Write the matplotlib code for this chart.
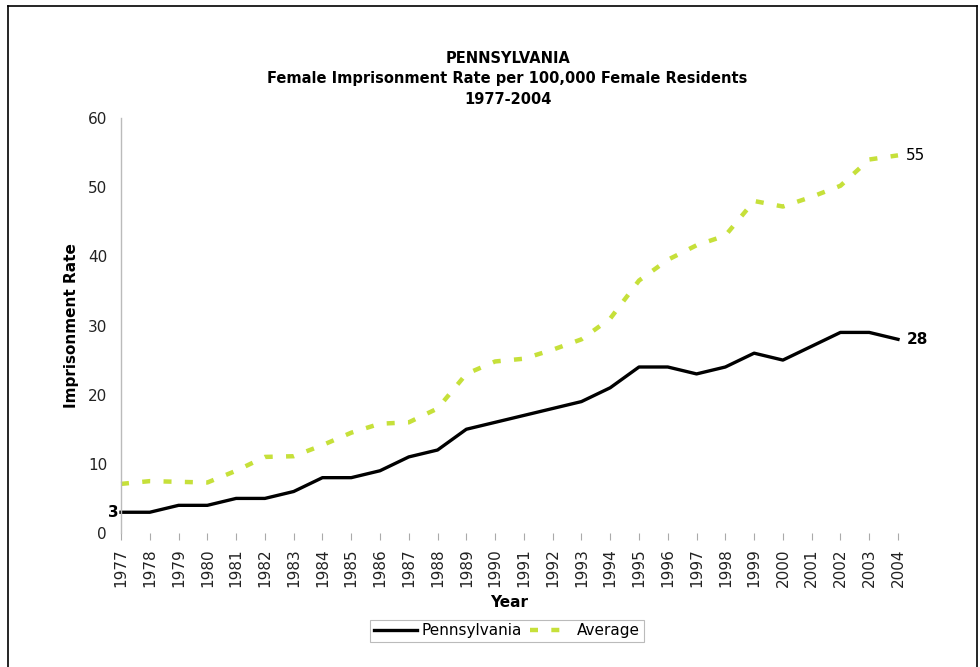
import matplotlib
matplotlib.use("Agg")
import matplotlib.pyplot as plt
from matplotlib.lines import Line2D

years = list(range(1977, 2005))
pennsylvania = [3, 3, 4, 4, 5, 5, 6, 8, 8, 9, 11, 12, 15, 16, 17, 18, 19, 21,
                24, 24, 23, 24, 26, 25, 27, 29, 29, 28]
average = [7.1, 7.5, 7.4, 7.3, 9.0, 11.0, 11.1, 12.7, 14.5, 15.8, 16.0, 18.0,
           23.0, 24.8, 25.2, 26.5, 28.0, 31.0, 36.5, 39.5, 41.6, 43.0, 48.0,
           47.2, 48.6, 50.2, 54.0, 54.6]

plt.rcParams['font.family'] = ['DejaVu Sans']

fig = plt.figure(figsize=(9.8, 6.67), dpi=100)
ax = fig.add_axes([121/980, 1 - 533/667, (898-121)/980, (533-118)/667])

avg_color = '#c6e03a'
ax.plot(years, pennsylvania, color='black', lw=2.4, label='Pennsylvania',
        clip_on=False, solid_joinstyle='round')
ax.plot(years, average, color=avg_color, lw=3.2, dashes=(1.8, 3.0),
        label='Average', clip_on=False)

ax.set_xlim(years[0], years[-1])
ax.set_ylim(0, 60)
ax.set_yticks(range(0, 61, 10))
ax.set_xticks(years)
ax.set_xticklabels([str(y) for y in years], rotation=90, fontsize=11)
ax.tick_params(axis='y', length=0, labelsize=11, pad=10, labelcolor='#222222')
ax.tick_params(axis='x', length=5, color='#aaaaaa', pad=6, direction='out',
               labelcolor='#222222')
for s in ['top', 'right', 'bottom']:
    ax.spines[s].set_visible(False)
ax.spines['left'].set_color('#bbbbbb')
ax.spines['left'].set_linewidth(1)

ax.set_xlabel('Year', fontsize=11, fontweight='bold', labelpad=6)
ax.set_ylabel('Imprisonment Rate', fontsize=11, fontweight='bold', labelpad=6)

fig.text(0.518, 1 - 79/667,
         'PENNSYLVANIA\nFemale Imprisonment Rate per 100,000 Female Residents\n1977-2004',
         ha='center', va='center', fontsize=10.5, fontweight='bold',
         linespacing=1.45)

ax.annotate(str(pennsylvania[0]), (years[0], pennsylvania[0]), xytext=(-2, 0),
            textcoords='offset points', ha='right', va='center',
            fontsize=11, fontweight='bold')
ax.annotate(str(pennsylvania[-1]), (years[-1], pennsylvania[-1]), xytext=(6, 0),
            textcoords='offset points', ha='left', va='center',
            fontsize=11, fontweight='bold')
ax.annotate(str(round(average[-1])), (years[-1], average[-1]), xytext=(6, 0),
            textcoords='offset points', ha='left', va='center', fontsize=11)

leg = ax.legend(loc='center', bbox_to_anchor=(507/980, 1 - 631/667),
                bbox_transform=fig.transFigure, ncol=2, frameon=True,
                fancybox=False, edgecolor='#aaaaaa', fontsize=11,
                handlelength=2.8, handletextpad=0.3, columnspacing=0.5,
                borderpad=0.25)
leg.get_frame().set_linewidth(0.8)

# outer frame
for xs, ys in [([8/980, 8/980], [0, 1 - 6/667]),
               ([8/980, 977/980], [1 - 6/667, 1 - 6/667]),
               ([977/980, 977/980], [0, 1 - 6/667])]:
    fig.add_artist(Line2D(xs, ys, color='black', lw=1.2,
                          transform=fig.transFigure))

fig.savefig('out.png', dpi=100, facecolor='white')
